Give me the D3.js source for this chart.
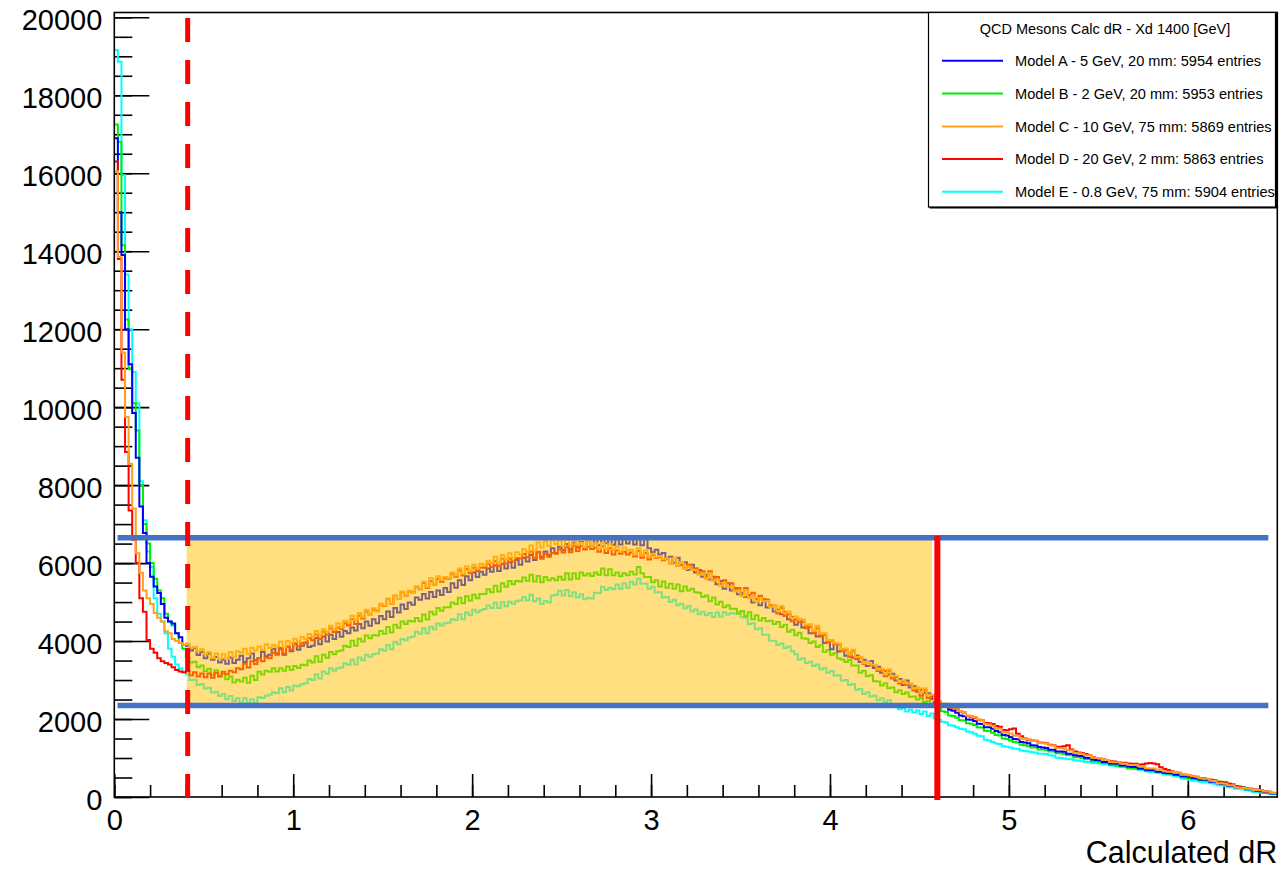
<!DOCTYPE html>
<html><head><meta charset="utf-8">
<script src="https://cdn.jsdelivr.net/npm/d3@7"></script>
<style>
body{margin:0;background:#fff;}
svg text{font-family:"Liberation Sans", Arial, Helvetica, sans-serif;}
</style>
</head><body><svg id="c" width="1283" height="870"></svg>
<script>
// ---- histogram binning ----
const X_MIN = 0, X_MAX = 6.5, N_BINS = 325;
const Y_MAX = 20123;

// ---- series values (counts per bin, bin width 0.02) ----
const modelA = [16900,15000,13900,12000,11100,9850,8700,7450,6770,6000,5650,5400,5230,4950,4600,4500,4450,4200,4100,3900,
3880,3760,3820,3640,3720, 3560,3680,3520,3590,3450, 3530,3420,3580,3440,3520, 3620,3460,3560,3680,3500, 3560,3720,3610,3650,3800, 3680,3820,3650,3860,3740,
3940,3780,3880,3960,3850, 3880,4080,3920,4120,3990, 4160,4050,4230,4110,4260, 4200,4350,4270,4440,4330, 4500,4390,4560,4460,4640, 4560,4760,4620,4850,4730, 4940,4820,4990,4930,5120, 5060,5210,5090,5260,5130, 5300,5180,5360,5260,5480, 5370,5560,5440,5660,5560,
5760,5640,5780,5700,5860, 5780,5940,5800,5980,5860, 6020,5880,6080,5960,6140, 6040,6210,6080,6280,6160, 6300,6200,6380,6260,6420, 6330,6490,6350,6530,6400, 6540,6400,6580,6440,6610, 6460,6620,6510,6640,6470, 6610,6480,6650,6500,6640, 6480,6650,6460,6660,6380,
6280,6340,6220,6260,6110, 6160,6010,6140,5950,6020, 5820,5960,5760,5820,5650, 5700,5580,5650,5460,5540, 5340,5480,5300,5360,5200, 5240,5130,5180,4990,5080, 4920,5050,4860,4920,4760, 4800,4690,4740,4560,4620, 4420,4560,4350,4400,4200, 4230,4120,4140,3950,3990,
3790,3930,3730,3790,3620, 3680,3580,3630,3460,3520, 3360,3490,3310,3340,3190, 3230,3140,3160,2990,3030, 2870,2990,2810,2840,2700, 2750,2670,2660,2520,2550,
2450,2380,2350,2240,2210, 2160,2090,2070,1990,1980, 1950,1880,1870,1790,1790, 1750,1690,1660,1590,1580, 1540,1490,1480,1410,1400, 1380,1330,1320,1280,1270, 1260,1210,1210,1170,1170, 1160,1110,1110,1070,1060, 1050,1010,1000,960,950, 940,900,900,860,860, 850,810,810,780,770, 770,730,730,700,690, 690,650,650,620,610, 610,570,570,530,530, 520,490,480,450,440, 440,390,390,350,340, 330,290,290,250,250, 240,200,200,170,160, 150,120,120,90,90];

const modelB = [17250,16800,14150,12250,11000,10100,9400,8000,7000,6500,6000,5600,5300,5100,4700,4500,4400,4200,3950,3800,
3590,3450,3470,3330,3370, 3230,3290,3130,3250,3100, 3160,3020,3090,2940,3010, 2960,3060,2930,3110,3000, 3210,3140,3240,3210,3300, 3220,3300,3240,3350,3260,
3360,3310,3390,3380,3500, 3450,3610,3470,3650,3570, 3720,3660,3740,3760,3880, 3850,4010,3880,4060,3990, 4140,4070,4150,4140,4260, 4190,4360,4220,4420,4340, 4500,4440,4520,4500,4590, 4510,4680,4550,4750,4680, 4850,4780,4870,4870,4990, 4950,5110,4970,5150,5040,
5190,5100,5210,5210,5330, 5250,5420,5270,5480,5390, 5540,5460,5540,5530,5630, 5550,5700,5530,5670,5510, 5640,5560,5610,5560,5650, 5570,5740,5580,5740,5600, 5760,5680,5730,5670,5760, 5700,5860,5690,5840,5690, 5760,5660,5740,5690,5780, 5710,5900,5740,5640,5640,
5510,5560,5400,5530,5370, 5470,5340,5450,5280,5400, 5300,5340,5250,5240,5130, 5170,5020,5120,4940,5010, 4870,4920,4830,4830,4710, 4770,4640,4740,4560,4660, 4530,4590,4510,4520,4440, 4490,4360,4420,4240,4290, 4150,4210,4070,4060,3950, 3990,3850,3890,3720,3770,
3650,3690,3550,3530,3460, 3520,3370,3370,3190,3240, 3100,3120,2970,2960,2860, 2920,2790,2810,2690,2740, 2640,2680,2570,2580,2500, 2540,2440,2460,2340,2380,
2280,2200,2180,2090,2080, 2030,1970,1960,1890,1880, 1850,1790,1780,1700,1690, 1650,1590,1580,1500,1490, 1450,1410,1400,1340,1330, 1300,1270,1270,1220,1220, 1200,1170,1170,1120,1120, 1100,1070,1070,1020,1020, 1000,970,970,920,920, 900,870,870,820,820, 800,780,780,740,740, 730,710,710,670,670, 660,640,640,610,610, 600,570,560,510,500, 490,470,460,430,430, 420,410,410,390,390, 380,340,320,280,260, 250,220,210,170,160, 150,130,120,100,90];

const modelC = [16050,13850,11400,9750,8550,7400,6250,5750,5300,5100,4950,4720,4600,4500,4250,4200,4050,4000,3950,3900,
3940,3820,3850,3740,3790, 3660,3720,3560,3680,3540, 3660,3540,3720,3600,3740, 3700,3800,3660,3830,3760, 3860,3770,3920,3820,3900, 3860,3990,3840,4000,3940,
4060,3980,4110,4050,4180, 4120,4260,4160,4300,4240, 4390,4300,4460,4350,4520, 4480,4650,4530,4720,4610, 4800,4690,4840,4760,4960, 4910,5090,4960,5170,5080, 5270,5150,5290,5240,5400, 5340,5520,5380,5620,5470, 5660,5560,5640,5620,5760, 5680,5860,5720,5920,5800,
5960,5860,5980,5940,6060, 6000,6160,6010,6210,6100, 6250,6140,6280,6220,6360, 6290,6450,6320,6530,6400, 6560,6440,6600,6490,6580, 6440,6610,6450,6580,6470, 6520,6410,6570,6430,6510, 6370,6520,6360,6490,6350, 6420,6290,6400,6330,6340, 6220,6380,6200,6320,6170,
6240,6150,6180,6100,6120, 5990,6130,5940,6030,5850, 5910,5830,5820,5700,5740, 5600,5740,5550,5580,5420, 5480,5390,5400,5270,5290, 5150,5290,5100,5160,5010, 5100,5020,5030,4880,4920, 4770,4900,4720,4760,4590, 4630,4560,4550,4420,4430, 4260,4390,4190,4200,4020,
4030,3950,3940,3790,3810, 3660,3780,3590,3600,3430, 3470,3400,3390,3270,3290, 3150,3280,3100,3110,2950, 2990,2920,2910,2790,2810, 2680,2790,2610,2620,2480,
2460,2400,2390,2310,2290, 2270,2200,2180,2090,2080, 2050,1990,1970,1870,1860, 1830,1760,1750,1660,1650, 1630,1580,1570,1500,1490, 1480,1440,1440,1390,1380, 1370,1330,1320,1260,1250, 1240,1200,1190,1130,1120, 1110,1070,1070,1010,1000, 990,950,950,900,890, 890,860,860,830,820, 820,790,790,740,730, 730,700,700,660,650, 650,620,620,570,570, 560,530,520,480,470, 470,420,410,350,350, 340,300,300,250,240, 230,210,210,180,180, 170,140,140,110,100];

const modelD = [16300,13800,10700,8850,7350,6600,6000,5100,4750,4030,3800,3700,3560,3480,3440,3400,3330,3260,3220,3200,
3230,3120,3200,3090,3170, 3070,3170,3060,3190,3090, 3210,3150,3240,3200,3300, 3280,3420,3320,3480,3410, 3560,3480,3580,3560,3700, 3650,3790,3680,3850,3780,
3930,3860,3950,3940,4070, 4020,4170,4050,4240,4160, 4320,4230,4350,4310,4460, 4400,4560,4440,4650,4580, 4760,4680,4800,4780,4940, 4900,5080,4950,5160,5080, 5250,5160,5270,5250,5390, 5330,5490,5360,5540,5450, 5600,5520,5610,5600,5720, 5650,5810,5680,5850,5740,
5880,5800,5890,5880,5980, 5900,6050,5920,6110,5990, 6120,6040,6130,6120,6230, 6150,6300,6140,6290,6110, 6240,6160,6260,6240,6350, 6270,6420,6280,6450,6310, 6440,6350,6420,6360,6400, 6290,6430,6260,6380,6220, 6320,6240,6290,6220,6270, 6170,6310,6140,6260,6090,
6210,6130,6160,6070,6110, 5990,6130,5930,6030,5860, 5960,5880,5870,5750,5790, 5650,5790,5580,5640,5470, 5560,5480,5480,5330,5360, 5210,5360,5160,5240,5080, 5160,5080,5060,4890,4910, 4710,4850,4640,4690,4510, 4560,4480,4490,4330,4360, 4200,4330,4120,4150,3970,
4010,3930,3910,3750,3780, 3600,3740,3540,3580,3410, 3460,3380,3380,3230,3260, 3100,3240,3040,3080,2910, 2960,2880,2880,2730,2760, 2600,2740,2540,2580,2430,
2420,2360,2380,2290,2280, 2250,2190,2170,2080,2060, 2030,1980,1970,1900,1890, 1870,1820,1800,1720,1710, 1740,1760,1620,1560,1500, 1470,1450,1440,1400,1390, 1380,1340,1330,1290,1290, 1300,1330,1220,1170,1140, 1130,1100,1080,1020,1000, 980,960,950,920,910, 900,880,880,860,850, 850,830,840,860,870, 860,840,760,720,690, 660,630,620,580,570, 550,530,520,490,480, 460,440,430,390,380, 370,340,320,280,260, 240,220,210,190,190, 180,150,140,110,100];

const modelE = [19160,18860,15950,13400,12000,10900,10100,8100,7100,6300,5900,5100,4700,4500,4200,3800,3600,3400,3300,3200,
3150,3000,3010,2870,2900, 2780,2800,2680,2700,2590, 2640,2510,2590,2460,2530, 2420,2530,2410,2510,2420, 2560,2540,2600,2620,2690, 2660,2790,2690,2820,2730,
2860,2840,2890,2920,3030, 3000,3150,3040,3220,3160, 3300,3240,3300,3320,3430, 3390,3520,3400,3580,3510, 3650,3600,3660,3680,3790, 3750,3900,3790,3980,3920, 4050,4020,4090,4120,4240, 4190,4330,4200,4370,4300, 4450,4400,4460,4470,4560, 4540,4690,4560,4730,4660,
4800,4740,4790,4820,4910, 4850,4980,4850,5000,4890, 5010,4960,5020,5040,5130, 5050,5190,5020,5090,4950, 5030,4990,5170,5190,5290, 5170,5310,5150,5250,5120, 5200,5070,5110,5090,5240, 5230,5390,5310,5370,5330, 5450,5340,5480,5370,5520, 5450,5600,5470,5470,5340,
5390,5250,5250,5120,5130, 5000,5060,4920,4960,4840, 4890,4760,4810,4690,4750, 4660,4720,4620,4730,4630, 4740,4680,4720,4700,4740, 4610,4600,4440,4460,4300, 4330,4160,4160,4010,4010, 3900,3940,3820,3860,3740, 3660,3520,3560,3440,3470, 3360,3400,3270,3310,3190,
3230,3110,3120,2980,3000, 2870,2900,2750,2770,2640, 2690,2580,2600,2480,2530, 2440,2480,2340,2370,2250, 2290,2190,2240,2170,2220, 2130,2190,2080,2140,2020,
1980,1930,1910,1840,1830, 1790,1750,1740,1680,1660, 1620,1570,1560,1470,1450, 1410,1370,1360,1300,1290, 1270,1240,1240,1190,1180, 1170,1150,1140,1110,1110, 1100,1070,1060,1010,1000, 990,970,970,940,930, 920,900,900,870,870, 860,840,840,810,800, 790,770,770,740,730, 720,700,690,660,650, 640,620,610,580,570, 560,530,520,470,460, 440,420,420,390,380, 370,350,340,300,300, 280,250,250,210,210, 190,170,160,130,130, 110,100,90,80,70];

// ---- labels / legend ----
const legendTitle = "QCD Mesons Calc dR - Xd 1400 [GeV]";
const seriesNames = [
  "Model A - 5 GeV, 20 mm: 5954 entries",
  "Model B - 2 GeV, 20 mm: 5953 entries",
  "Model C - 10 GeV, 75 mm: 5869 entries",
  "Model D - 20 GeV, 2 mm: 5863 entries",
  "Model E - 0.8 GeV, 75 mm: 5904 entries"
];
const seriesColors = ["#0000ff", "#00ee00", "#ffa020", "#ff0000", "#00ffff"];
const xTickValues = [0, 1, 2, 3, 4, 5, 6];
const yTickValues = [0, 2000, 4000, 6000, 8000, 10000, 12000, 14000, 16000, 18000, 20000];
const xTitle = "Calculated dR";

// ---- annotation values (data units) ----
const cutLow = 0.41, cutHigh = 4.6, bandRight = 4.57;
const bandTop = 6650, bandBottom = 2350;
const lineStart = 0.018, lineEnd = 6.45;

// ===== drawing =====
const series = [modelA, modelB, modelC, modelD, modelE];
const svg = d3.select("#c");
const L = 114.3, R = 1277.3, T = 12.5, B = 797;
const x = d3.scaleLinear().domain([X_MIN, X_MAX]).range([L, R]);
const y = d3.scaleLinear().domain([0, Y_MAX]).range([B, T]);
const binW = (X_MAX - X_MIN) / N_BINS;

// axes
const gy = svg.append("g").attr("transform", `translate(${L},0)`);
gy.call(d3.axisLeft(y).tickValues(d3.range(0, 20001, 500)).tickSizeInner(-18).tickSizeOuter(0).tickFormat(""));
gy.append("g").call(d3.axisLeft(y).tickValues(yTickValues).tickSizeInner(-35).tickSizeOuter(0).tickPadding(12).tickFormat(d3.format("d")));
gy.selectAll(".domain").remove();
gy.selectAll("line").attr("stroke", "#000").attr("stroke-width", 1.6);
gy.selectAll("text").attr("font-size", 29).attr("fill", "#000").attr("dy", "0.42em");

const gx = svg.append("g").attr("transform", `translate(0,${B})`);
gx.call(d3.axisBottom(x).tickValues(d3.range(0, 6.41, 0.2)).tickSizeInner(-12).tickSizeOuter(0).tickFormat(""));
gx.append("g").call(d3.axisBottom(x).tickValues(xTickValues).tickSizeInner(-23).tickSizeOuter(0).tickPadding(12).tickFormat(d3.format("d")));
gx.selectAll(".domain").remove();
gx.selectAll("line").attr("stroke", "#000").attr("stroke-width", 1.6);
gx.selectAll("text").attr("font-size", 29).attr("fill", "#000");

svg.append("text").attr("x", R).attr("y", 863).attr("text-anchor", "end")
  .attr("font-size", 30.5).attr("fill", "#000").text(xTitle);

// histograms
const line = d3.line().x(d => x(d[0])).y(d => y(d[1])).curve(d3.curveStepAfter);
const drawOrder = [4, 1, 0, 3, 2];
drawOrder.forEach(k => {
  const vals = series[k];
  const pts = vals.map((v, i) => [X_MIN + i * binW, v]);
  pts.push([X_MAX, vals[vals.length - 1]]);
  svg.append("path").attr("d", line(pts)).attr("fill", "none")
    .attr("stroke", seriesColors[k]).attr("stroke-width", 2);
});

// frame
svg.append("rect").attr("x", L).attr("y", T).attr("width", R - L).attr("height", B - T)
  .attr("fill", "none").attr("stroke", "#000").attr("stroke-width", 1.6);

// highlighted band
svg.append("rect").attr("x", x(cutLow) - 1).attr("y", y(bandTop))
  .attr("width", x(bandRight) - x(cutLow) + 1).attr("height", y(bandBottom) - y(bandTop))
  .attr("fill", "#ffc000").attr("fill-opacity", 0.5);

// horizontal band limits
[bandTop, bandBottom].forEach(v => {
  svg.append("line").attr("x1", x(lineStart)).attr("x2", x(lineEnd))
    .attr("y1", y(v)).attr("y2", y(v)).attr("stroke", "#4472c4").attr("stroke-width", 5.5);
});

// cut lines
svg.append("line").attr("x1", x(cutLow)).attr("x2", x(cutLow))
  .attr("y1", y(19980)).attr("y2", B + 1)
  .attr("stroke", "#ff0000").attr("stroke-width", 5).attr("stroke-dasharray", "24,18");
svg.append("line").attr("x1", x(cutHigh)).attr("x2", x(cutHigh))
  .attr("y1", y(bandTop) - 2).attr("y2", B + 3)
  .attr("stroke", "#ff0000").attr("stroke-width", 6);

// legend
const lg = svg.append("g");
lg.append("rect").attr("x", 929.5).attr("y", 13.5).attr("width", 347.5).attr("height", 195).attr("fill", "#000");
lg.append("rect").attr("x", 928.5).attr("y", 12.5).attr("width", 347).attr("height", 194.5)
  .attr("fill", "#fff").attr("stroke", "#000").attr("stroke-width", 1.2);
lg.append("text").attr("x", 1105).attr("y", 28.5).attr("dy", "0.35em").attr("text-anchor", "middle")
  .attr("font-size", 14.5).attr("fill", "#000").text(legendTitle);
const rowY = [60.7, 93.5, 126.5, 159, 191.7];
seriesNames.forEach((n, i) => {
  lg.append("line").attr("x1", 942).attr("x2", 1003).attr("y1", rowY[i]).attr("y2", rowY[i])
    .attr("stroke", seriesColors[i]).attr("stroke-width", 2);
  lg.append("text").attr("x", 1015).attr("y", rowY[i]).attr("dy", "0.35em")
    .attr("font-size", 14.6).attr("fill", "#000").text(n);
});
</script>
</body></html>
